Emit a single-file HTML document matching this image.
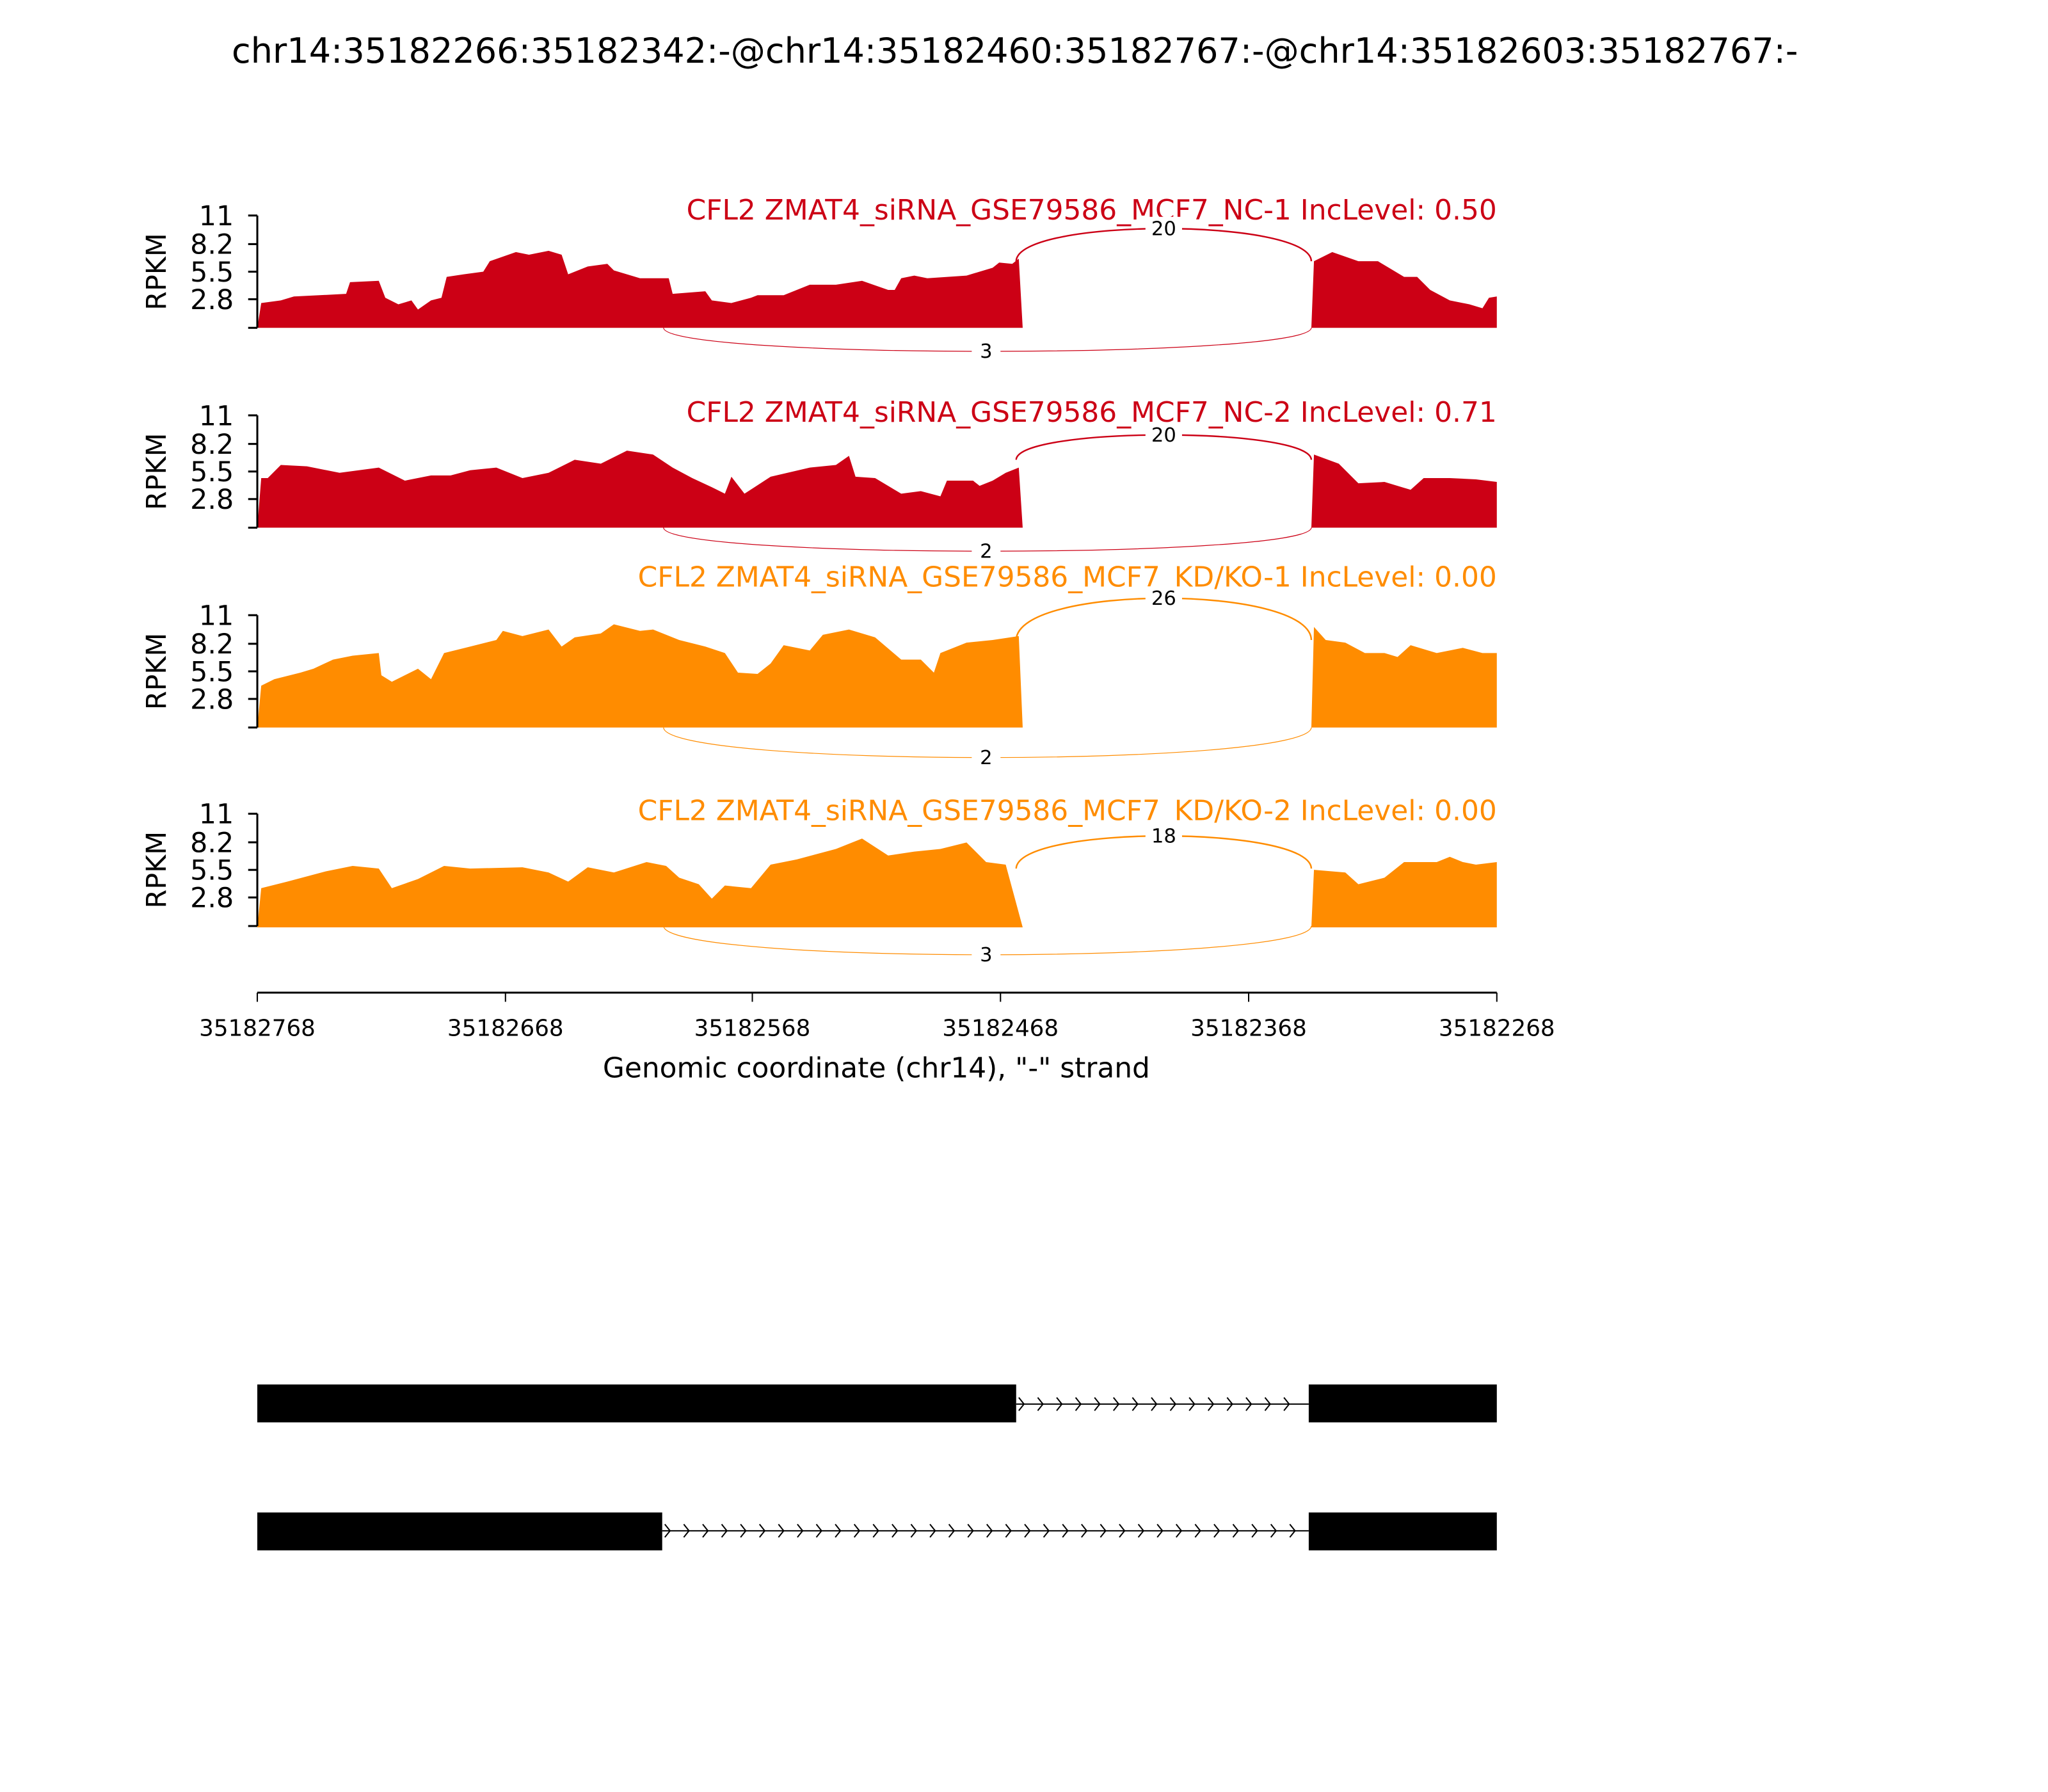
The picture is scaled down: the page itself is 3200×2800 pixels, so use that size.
<!DOCTYPE html>
<html><head><meta charset="utf-8"><style>
html,body{margin:0;padding:0;background:#fff;}
svg{display:block;font-family:"DejaVu Sans","Liberation Sans",sans-serif;}
</style></head><body>
<svg id="s" width="3200" height="2800" viewBox="0 0 1568 1372" xmlns="http://www.w3.org/2000/svg">
<rect width="1568" height="1372" fill="#fff"/>
<text x="777" y="48" font-size="26.5" text-anchor="middle">chr14:35182266:35182342:-@chr14:35182460:35182767:-@chr14:35182603:35182767:-</text>
<g id="g"></g>
<line x1="197" y1="760" x2="1146" y2="760" stroke="#000" stroke-width="1.5"/>
<g font-size="17.5" text-anchor="middle">
<line x1="197" y1="760" x2="197" y2="767" stroke="#000"/><text x="197" y="793">35182768</text>
<line x1="387" y1="760" x2="387" y2="767" stroke="#000"/><text x="387" y="793">35182668</text>
<line x1="576" y1="760" x2="576" y2="767" stroke="#000"/><text x="576" y="793">35182568</text>
<line x1="766" y1="760" x2="766" y2="767" stroke="#000"/><text x="766" y="793">35182468</text>
<line x1="956" y1="760" x2="956" y2="767" stroke="#000"/><text x="956" y="793">35182368</text>
<line x1="1146" y1="760" x2="1146" y2="767" stroke="#000"/><text x="1146" y="793">35182268</text>
</g>
<text x="671" y="825" font-size="21.5" text-anchor="middle">Genomic coordinate (chr14), "-" strand</text>
<rect x="197" y="1060" width="581" height="29" fill="#000"/>
<rect x="1002" y="1060" width="144" height="29" fill="#000"/>
<line x1="778" y1="1075" x2="1002" y2="1075" stroke="#000"/>
<rect x="197" y="1158" width="310" height="29" fill="#000"/>
<rect x="1002" y="1158" width="144" height="29" fill="#000"/>
<line x1="507" y1="1172" x2="1002" y2="1172" stroke="#000"/>
<g id="arr" fill="none" stroke="#000" stroke-width="1"></g>
</svg>
<script>
var NS="http://www.w3.org/2000/svg",g=document.getElementById('g');
function el(t,a,p,txt){var e=document.createElementNS(NS,t);for(var k in a)e.setAttribute(k,a[k]);if(txt!=null)e.textContent=txt;(p||g).appendChild(e);return e;}
var P=[
{top:165,col:"#cc0015",tb:168,uy:175,us:200,ly:269,title:"CFL2 ZMAT4_siRNA_GSE79586_MCF7_NC-1 IncLevel: 0.50",up:"20",dn:"3",
a:[197,251,200,232,215,230,225,227,265,225,268,216,290,215,295,228,305,233,315,230,320,237,330,230,338,228,342,212,355,210,370,208,375,200,395,193,405,195,420,192,430,195,435,210,450,204,465,202,470,207,480,210,490,213,512,213,515,225,540,223,545,230,560,232,575,228,580,226,600,226,620,218,640,218,660,215,680,222,685,222,690,213,700,211,710,213,740,211,750,208,760,205,765,201,775,202,780,198,783,251],
b:[1004,251,1006,200,1020,193,1040,200,1055,200,1065,206,1075,212,1085,212,1095,222,1110,230,1125,233,1135,236,1140,228,1146,227,1146,251]},
{top:318,col:"#cc0015",tb:323,uy:333,us:352,ly:422,title:"CFL2 ZMAT4_siRNA_GSE79586_MCF7_NC-2 IncLevel: 0.71",up:"20",dn:"2",
a:[197,404,200,366,205,366,215,356,235,357,260,362,290,358,310,368,330,364,345,364,360,360,380,358,400,366,420,362,440,352,460,355,480,345,500,348,515,358,530,366,545,373,555,378,560,365,570,378,590,365,620,358,640,356,650,349,655,365,670,366,690,378,705,376,720,380,725,368,745,368,750,372,760,368,770,362,780,358,783,404],
b:[1004,404,1006,348,1025,355,1040,370,1060,369,1080,375,1090,366,1110,366,1130,367,1146,369,1146,404]},
{top:471,col:"#ff8c00",tb:449,uy:458,us:490,ly:580,title:"CFL2 ZMAT4_siRNA_GSE79586_MCF7_KD/KO-1 IncLevel: 0.00",up:"26",dn:"2",
a:[197,557,200,525,210,520,230,515,240,512,255,505,270,502,290,500,292,517,300,522,320,512,330,520,340,500,360,495,380,490,385,483,400,487,420,482,430,495,440,488,460,485,470,478,490,483,500,482,520,490,540,495,555,500,565,515,580,516,590,508,600,494,620,498,630,486,650,482,670,488,690,505,705,505,715,515,720,500,740,492,760,490,780,487,783,557],
b:[1004,557,1006,480,1015,490,1030,492,1045,500,1060,500,1070,503,1080,494,1100,500,1120,496,1135,500,1146,500,1146,557]},
{top:623,col:"#ff8c00",tb:628,uy:640,us:665,ly:731,title:"CFL2 ZMAT4_siRNA_GSE79586_MCF7_KD/KO-2 IncLevel: 0.00",up:"18",dn:"3",
a:[197,710,200,680,220,675,250,667,270,663,290,665,300,680,320,673,340,663,360,665,400,664,420,668,435,675,450,664,470,668,495,660,510,663,520,672,535,677,545,688,555,678,575,680,590,662,610,658,640,650,660,642,680,655,700,652,720,650,740,645,755,660,770,662,783,710],
b:[1004,710,1006,666,1030,668,1040,677,1060,672,1075,660,1100,660,1110,656,1120,660,1130,662,1146,660,1146,710]}
];
P.forEach(function(p){
 var t=p.top,b=t+86;
 el('polygon',{points:p.a.join(' '),fill:p.col});
 el('polygon',{points:p.b.join(' '),fill:p.col});
 el('line',{x1:197,y1:t,x2:197,y2:b,stroke:"#000","stroke-width":1.5});
 [[0,""],[2.8,"2.8"],[5.5,"5.5"],[8.2,"8.2"],[11,"11"]].forEach(function(v){
  var y=b-v[0]*86/11;
  el('line',{x1:190,y1:y,x2:197,y2:y,stroke:"#000","stroke-width":1.5});
  if(v[1])el('text',{x:179,y:y+7.5,"font-size":21,"text-anchor":"end"},null,v[1]);
 });
 el('text',{x:0,y:0,"font-size":21,"text-anchor":"middle",transform:"translate(127,"+(t+43)+") rotate(-90)"},null,"RPKM");
 el('text',{x:1146,y:p.tb,"font-size":21.5,"text-anchor":"end",fill:p.col},null,p.title);
 var c=p.uy-(p.us-p.uy)/3;
 el('path',{d:"M778 "+p.us+" C779 "+c+",1003 "+c+",1004 "+p.us,fill:"none",stroke:p.col,"stroke-width":1.2});
 el('rect',{x:877,y:p.uy-9,width:28,height:18,fill:"#fff"});
 el('text',{x:891,y:p.uy+5,"font-size":15,"text-anchor":"middle"},null,p.up);
 var d=(p.ly-b)*4/3;
 el('path',{d:"M508 "+b+" C510 "+(b+d)+",1002 "+(b+d)+",1004 "+b,fill:"none",stroke:p.col,"stroke-width":0.6});
 el('rect',{x:744,y:p.ly-9,width:22,height:18,fill:"#fff"});
 el('text',{x:755,y:p.ly+5,"font-size":15,"text-anchor":"middle"},null,p.dn);
});
var ar=document.getElementById('arr');
function arrows(x0,x1,y){for(var x=x0+6;x<x1-2;x+=14.5){el('path',{d:"M"+(x-4)+" "+(y-5)+" L"+x+" "+y+" L"+(x-4)+" "+(y+5)},ar);}}
arrows(778,1002,1075);arrows(507,1002,1172);
</script>
</body></html>
